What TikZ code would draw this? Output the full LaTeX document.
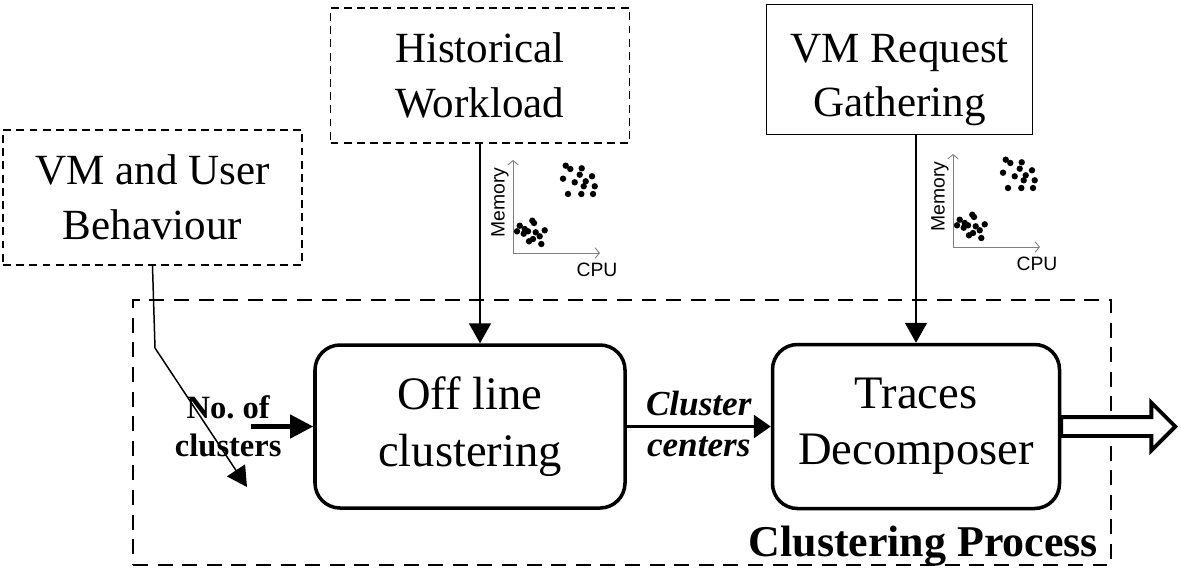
\documentclass[tikz,border=0pt]{standalone}
\usepackage{fontspec}
\setmainfont{Liberation Serif}
\setsansfont{Liberation Sans}
\usepackage{tikz}
\usetikzlibrary{shapes,arrows,arrows.meta}
\usetikzlibrary{positioning}
\tikzstyle{source} = [rectangle, draw, line width=1pt, dash pattern=on 4.5pt off 3pt,
    minimum width=5.98cm, minimum height=2.7cm, align=center,
    font=\fontsize{24.5}{31}\selectfont]
\tikzstyle{request} = [source, solid, minimum width=5.32cm, minimum height=2.6cm]
\tikzstyle{block} = [rectangle, draw, line width=2pt, rounded corners=0.5cm,
    minimum width=6.2cm, minimum height=3.26cm, align=center,
    font=\fontsize{26.5}{32}\selectfont]
\tikzstyle{frame} = [rectangle, draw, line width=1.6pt,
    dash pattern=on 8.5pt off 5.5pt, minimum width=19.56cm, minimum height=5.3cm]
\tikzstyle{line} = [draw, line width=1.1pt, -{Triangle[length=0.4cm, width=0.44cm]}]
\tikzstyle{flow} = [font=\fontsize{20}{24}\selectfont\bfseries\itshape, inner sep=5pt]
\tikzstyle{count} = [align=center, inner sep=0pt,
    font=\fontsize{18.5}{21.5}\selectfont\bfseries]
\tikzstyle{hollow} = [single arrow, draw, fill=white, line width=2.2pt,
    inner xsep=0pt, inner ysep=0.15cm, minimum height=2.28cm,
    single arrow head extend=0.29cm, single arrow head indent=0cm, outer sep=0pt]
\tikzstyle{axis} = [draw, gray, line width=0.5pt, -{Straight Barb[length=2.5pt, width=6pt]}]
\tikzstyle{axlab} = [inner sep=0pt, font=\sffamily\fontsize{11}{13}\selectfont]

% scatter of two VM clusters, #1 = origin, #2 = name prefix
\newcommand{\cloud}[2]{%
  \begin{scope}[shift={#1}, x=0.02cm, y=0.02cm]
    \path [axis] (0,0) -- (0,93);
    \path [axis] (0,0) -- (87,0);
    \node [axlab, rotate=90] (#2mem) at (-13,50.5) {Memory};
    \node [axlab] (#2cpu) at (84,-16.5) {CPU};
    \foreach \dx/\dy in {52.7/87.3, 57.3/84, 68.7/84.7, 50/74.3, 66.7/78.3,
        79/76.7, 61.7/70.7, 72.7/71.7, 70.7/66.7, 81.7/66.7, 55/59, 68.3/59,
        80/59, 6.7/27.3, 19.3/32.3, 21/30, 11.7/24, 4/21.7, 15/21.7,
        22.7/20.7, 31.7/22.7, 26.7/16.7, 20/14, 16/11.7, 28.3/9, 10.7/19.3}
      \fill (\dx,\dy) circle (3.2);
  \end{scope}}

\begin{document}
\begin{tikzpicture}[node distance = 2cm, auto]
  \useasboundingbox (0,0) rectangle (23.62,-11.42);
  % Place nodes
  \node [frame] (process) at (12.44,-8.65) {};
  \node [block] (offline) at (9.4,-8.53) {Off line\\clustering};
  \node [block, right of=offline, node distance=8.92cm,
         minimum width=5.74cm, minimum height=3.28cm] (traces) {Traces\\Decomposer};
  \node [source, above of=offline, node distance=7.02cm, xshift=0.2cm] (history)
        {Historical\\Workload};
  \node [request, above of=traces, node distance=7.14cm, xshift=-0.33cm] (request)
        {\rule{0pt}{28pt}VM Request\\Gathering};
  \node [source] (behaviour) at (3.05,-3.95) {VM and User\\Behaviour};
  \node [anchor=base east, inner sep=0pt, font=\fontsize{25}{30}\selectfont\bfseries]
        (proclabel) at ([xshift=-0.28cm, yshift=0.2cm]process.south east)
        {Clustering Process};

  % scatter plots
  \cloud{(10.26,-5.06)}{hw}
  \cloud{(19.06,-4.94)}{rq}

  % inputs
  \path [line] (history.south) -- (history.south |- offline.north);
  \path [line] (request.south -| traces.north) -- (traces.north);
  \path [line, line width=1.7pt, -{Triangle[length=0.34cm, width=0.46cm]}]
        (offline.east) -- node [above, flow] (clabel) {Cluster}
                          node [below, flow] (clabel2) {centers} (traces.west);

  \coordinate (nin) at ([xshift=-1.24cm]offline.west);
  \node [count] (nclust) at ([xshift=-0.46cm]nin) {No.\ of\\clusters};
  \path [line, line width=2.4pt, -{Triangle[length=0.46cm, width=0.46cm]}]
        (nin) -- (offline.west);

  \coordinate (knee) at (3.1,-6.96);
  \coordinate (tip) at (4.94,-9.74);
  \path [line, line width=0.85pt, -{Triangle[length=0.4cm, width=0.43cm]}]
        (behaviour.south) -- (knee) -- (tip);

  % output
  \node [hollow, anchor=tail] (output) at (traces.east) {};
\end{tikzpicture}
\end{document}
